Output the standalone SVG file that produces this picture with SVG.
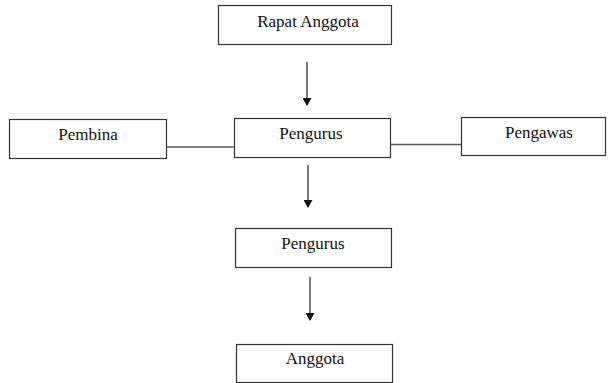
<svg xmlns="http://www.w3.org/2000/svg" width="608" height="383" viewBox="0 0 608 383">
<style>
.box{fill:#fff;stroke:#333;stroke-width:1.2}
.lbl{font-family:"Liberation Serif","Times New Roman",serif;font-size:17px;fill:#111;text-anchor:middle}
.ln{stroke:#222;stroke-width:1.2;fill:none}
.hl{stroke:#555;stroke-width:1.3;fill:none}
</style>
<defs>
<marker id="ah" markerWidth="8" markerHeight="9" refX="7" refY="4.5" orient="auto" markerUnits="userSpaceOnUse">
<path d="M0,0 L8,4.5 L0,9 Z" fill="#111"/>
</marker>
</defs>
<g id="connectors">
<line class="ln" x1="307" y1="62" x2="307" y2="105" marker-end="url(#ah)"/>
<line class="ln" x1="308" y1="165" x2="308" y2="207" marker-end="url(#ah)"/>
<line class="ln" x1="310" y1="277" x2="310" y2="320" marker-end="url(#ah)"/>
<line class="hl" x1="166" y1="147" x2="234" y2="147"/>
<line class="hl" x1="391" y1="144.5" x2="461" y2="144.5"/>
</g>
<g id="rapat">
<rect class="box" x="218.5" y="5.5" width="173" height="39"/>
<text class="lbl" x="308" y="27">Rapat Anggota</text>
</g>
<g id="pembina">
<rect class="box" x="9.5" y="119.5" width="157" height="39"/>
<text class="lbl" x="88" y="140">Pembina</text>
</g>
<g id="pengurus1">
<rect class="box" x="234.5" y="118.5" width="156" height="39"/>
<text class="lbl" x="311" y="139">Pengurus</text>
</g>
<g id="pengawas">
<rect class="box" x="461.5" y="117.5" width="144" height="38"/>
<text class="lbl" x="539" y="138">Pengawas</text>
</g>
<g id="pengurus2">
<rect class="box" x="235.5" y="228.5" width="156" height="39"/>
<text class="lbl" x="313" y="249">Pengurus</text>
</g>
<g id="anggota">
<rect class="box" x="236.5" y="344.5" width="156" height="38"/>
<text class="lbl" x="315" y="364">Anggota</text>
</g>
</svg>
